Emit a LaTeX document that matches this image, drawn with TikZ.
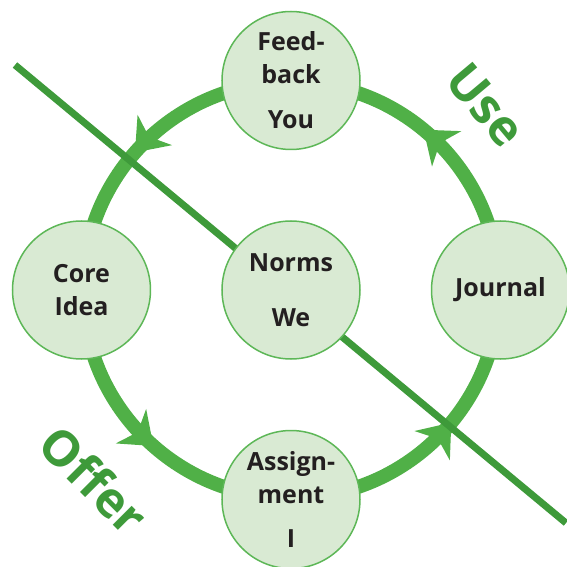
\documentclass[tikz,border=0pt]{standalone}
\usepackage{fontspec}
\setmainfont{Open Sans}
\usepackage{tikz}
\usetikzlibrary{arrows.meta, positioning, decorations.markings, backgrounds}
\definecolor{cRing}{RGB}{80,176,71}
\definecolor{cCut}{RGB}{62,154,58}
\definecolor{cFill}{RGB}{217,234,211}
\definecolor{cEdge}{RGB}{93,183,87}
\definecolor{cInk}{RGB}{35,31,32}
\tikzset{
	bub/.style   ={circle, draw=cEdge, line width=1.5pt, fill=cFill, minimum size=138pt, inner sep=0pt, align=center, text=cInk, font=\bfseries\fontsize{25}{33}\selectfont},
	ringarr/.style={draw=cRing, line width=14pt, postaction={decorate},
		decoration={markings,
			mark=at position 0.14 with {\arrow[cRing]{Stealth[length=30pt,width=46pt,inset=9pt,line width=0pt]}},
			mark=at position 0.385 with {\arrow[cRing]{Stealth[length=30pt,width=46pt,inset=9pt,line width=0pt]}},
			mark=at position 0.635 with {\arrow[cRing]{Stealth[length=30pt,width=46pt,inset=9pt,line width=0pt]}},
			mark=at position 0.89 with {\arrow[cRing]{Stealth[length=30pt,width=46pt,inset=9pt,line width=0pt]}}}},
	cut/.style   ={draw=cCut, line width=7pt},
	side/.style  ={text=cCut, font=\bfseries\fontsize{49}{49}\selectfont},
}
\begin{document}
\begin{tikzpicture}
	\useasboundingbox (-291pt,-277pt) rectangle (275pt,290pt);
	\node[bub] (nm) {Norms\\[22pt]We};
	\node[bub, above=70pt of nm] (fb) {Feed-\\back\\[12pt]You};
	\node[bub, left=70pt of nm] (ci) {Core\\Idea};
	\node[bub, right=70pt of nm] (jr) {Journal};
	\node[bub, below=70pt of nm] (as) {Assign-\\ment\\[10pt]I};
	\coordinate (cutA) at (-276pt,225pt);
	\coordinate (cutB) at (275pt,-233pt);
	\begin{scope}[on background layer]
		\draw[ringarr] (nm) circle (208pt);
		\draw[cut] (cutA) -- (cutB);
	\end{scope}
	\node[side, rotate=-50] (use) at (195pt,185pt) {Use};
	\node[side, rotate=-45] (offer) at (-197pt,-190pt) {Offer};
\end{tikzpicture}
\end{document}
